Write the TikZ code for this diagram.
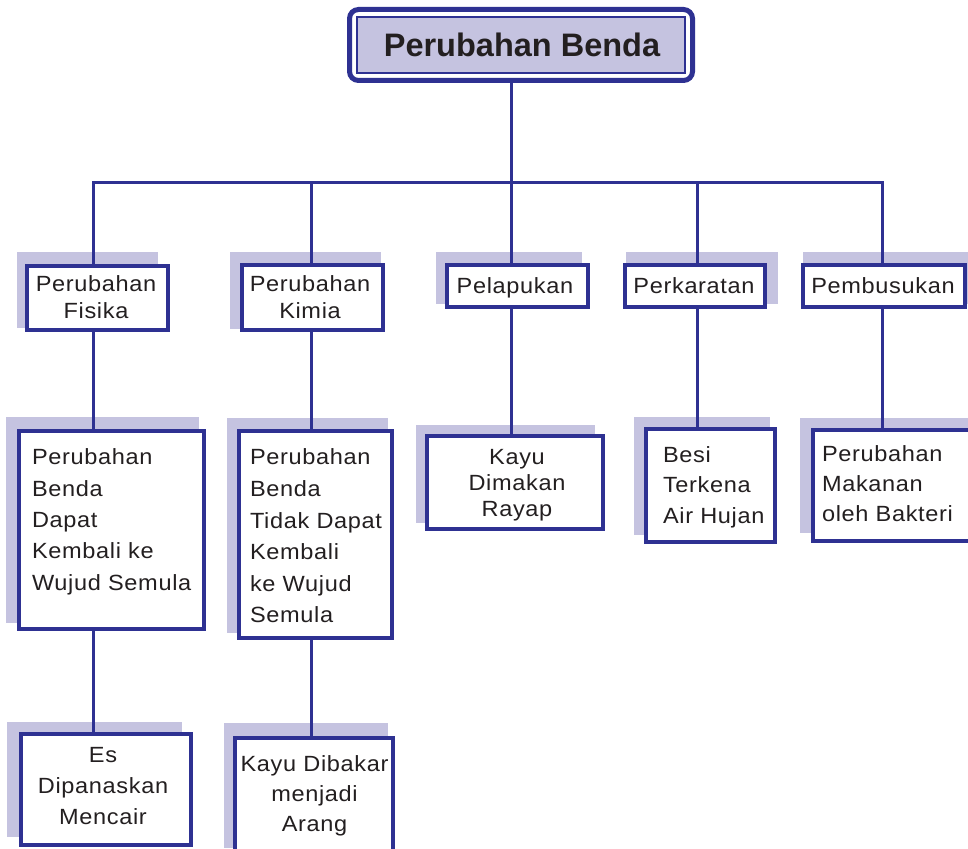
\documentclass[tikz,border=0pt]{standalone}
\usepackage{fontspec}
\setmainfont{Liberation Sans}
\newfontfamily\lab{Liberation Sans}[FakeStretch=1.07,LetterSpace=3]
\definecolor{myblue}{RGB}{46,49,146}
\definecolor{lav}{RGB}{197,195,224}
\definecolor{ink}{RGB}{35,31,32}
\begin{document}
\begin{tikzpicture}[x=1pt,y=-1pt,line join=miter,
  box/.style={draw=myblue,line width=4pt,fill=white,inner sep=0pt,outer sep=0pt,anchor=north west},
  link/.style={draw=myblue,line width=3pt},
  txt/.style={inner sep=0pt,outer sep=0pt,text=ink,font=\lab\fontsize{22}{#1}\selectfont},
  txt/.default=31]
\useasboundingbox (0,0) rectangle (968,848);
\clip (0,0) rectangle (968,848);
\fill[white] (0,0) rectangle (968,848);

% title
\node[draw=myblue,line width=5pt,rounded corners=9pt,fill=white,inner sep=0pt,outer sep=0pt,
  anchor=north west,minimum width=343pt,minimum height=71pt] (title) at (349.5,9.5) {};
\node[draw=myblue,line width=1.2pt,fill=lav,inner sep=0pt,outer sep=0pt,
  anchor=north west,minimum width=328pt,minimum height=56pt] (titlein) at (357,17) {};
\node[inner sep=0pt,text=ink,anchor=base,font=\bfseries\fontsize{32.5}{36}\selectfont] (titlet) at (522,57) {Perubahan Benda};

% shadows
\fill[lav] (17,252) rectangle (158,328);
\fill[lav] (230,252) rectangle (381,329);
\fill[lav] (436,252) rectangle (582,304);
\fill[lav] (626,252) rectangle (778,304);
\fill[lav] (803,252) rectangle (968,304);
\fill[lav] (6,417) rectangle (199,623);
\fill[lav] (227,418) rectangle (388,633);
\fill[lav] (416,425) rectangle (595,523);
\fill[lav] (634,417) rectangle (770,535);
\fill[lav] (800,418) rectangle (968,533);
\fill[lav] (7,722) rectangle (182,837);
\fill[lav] (224,723) rectangle (388,848);

% level 1 boxes
\node[box,minimum width=141pt,minimum height=64pt] (f1) at (27,266) {};
\node[box,minimum width=141pt,minimum height=65pt] (k1) at (242,265) {};
\node[box,minimum width=141pt,minimum height=42pt] (p1) at (447,265) {};
\node[box,minimum width=140pt,minimum height=42pt] (r1) at (625,265) {};
\node[box,minimum width=162pt,minimum height=42pt] (b1) at (803,265) {};
% level 2 boxes
\node[box,minimum width=185pt,minimum height=198pt] (f2) at (19,431) {};
\node[box,minimum width=153pt,minimum height=207pt] (k2) at (239,431) {};
\node[box,minimum width=176pt,minimum height=93pt] (p2) at (427,436) {};
\node[box,minimum width=129pt,minimum height=113pt] (r2) at (646,429) {};
\node[box,minimum width=170pt,minimum height=111pt] (b2) at (813,430) {};
% level 3 boxes
\node[box,minimum width=170pt,minimum height=111pt] (f3) at (21,734) {};
\node[box,minimum width=158pt,minimum height=120pt] (k3) at (235,738) {};

% connector coordinates
\coordinate (cF) at (93,182);
\coordinate (cK) at (311,182);
\coordinate (cP) at (511,182);
\coordinate (cR) at (697,182);
\coordinate (cB) at (882,182);

\draw[link] (f1.north -| cF) -- (cF) -- (cB) -- (b1.north -| cB);
\draw[link] (title.south -| cP) -- (cP);
\draw[link] (cK) -- (k1.north -| cK);
\draw[link] (cP) -- (p1.north -| cP);
\draw[link] (cR) -- (r1.north -| cR);
\draw[link] (f1.south -| cF) -- (f2.north -| cF);
\draw[link] (f2.south -| cF) -- (f3.north -| cF);
\draw[link] (k1.south -| cK) -- (k2.north -| cK);
\draw[link] (k2.south -| cK) -- (k3.north -| cK);
\draw[link] (p1.south -| cP) -- (p2.north -| cP);
\draw[link] (r1.south -| cR) -- (r2.north -| cR);
\draw[link] (b1.south -| cB) -- (b2.north -| cB);

% texts level 1
\node[txt=27,align=center,anchor=north] (f1t) at (96,276) {Perubahan\\Fisika};
\node[txt=27,align=center,anchor=north] (k1t) at (310,276) {Perubahan\\Kimia};
\node[txt,anchor=base] (p1t) at (515,293) {Pelapukan};
\node[txt,anchor=base] (r1t) at (694,293) {Perkaratan};
\node[txt,anchor=base] (b1t) at (883,293) {Pembusukan};
% texts level 2
\node[txt=31.3,align=left,anchor=north west] (f2t) at (32,449) {Perubahan\\Benda\\Dapat\\Kembali ke\\Wujud Semula};
\node[txt=31.6,align=left,anchor=north west] (k2t) at (250,449) {Perubahan\\Benda\\Tidak Dapat\\Kembali\\ke Wujud\\Semula};
\node[txt=26,align=center,anchor=north] (p2t) at (517,449) {Kayu\\Dimakan\\Rayap};
\node[txt=30.5,align=left,anchor=north west] (r2t) at (663,446.3) {Besi\\Terkena\\Air Hujan};
\node[txt=30,align=left,anchor=north west] (b2t) at (822,446) {Perubahan\\Makanan\\oleh Bakteri};
% texts level 3
\node[txt=31,align=center,anchor=north] (f3t) at (103,747.3) {Es\\Dipanaskan\\Mencair};
\node[txt=30,align=center,anchor=north] (k3t) at (314.5,756) {Kayu Dibakar\\menjadi\\Arang};
\end{tikzpicture}
\end{document}
